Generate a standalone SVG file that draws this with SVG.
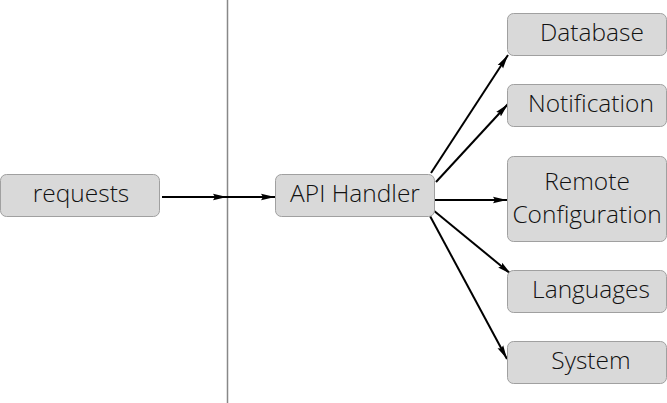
<svg xmlns="http://www.w3.org/2000/svg" width="667" height="403" viewBox="0 0 667 403">
<style>
.box{fill:#d9d9d9;stroke:#a0a0a0;stroke-width:1}
.lbl{font-family:"Open Sans","Noto Sans",sans-serif;font-size:24.5px;font-weight:300;fill:#111;text-anchor:middle}
.edge{stroke:#000;stroke-width:2;fill:none;marker-end:url(#arr)}
</style>
<defs>
<marker id="arr" viewBox="0 0 14 8" refX="14" refY="4" markerWidth="14" markerHeight="8" markerUnits="userSpaceOnUse" orient="auto">
<path d="M0,0.8 L14,4 L0,7.2 L2,4 Z" fill="#000"/>
</marker>
</defs>
<rect width="667" height="403" fill="#fff"/>
<line x1="227.5" y1="0" x2="227.5" y2="403" stroke="#888" stroke-width="1.5"/>
<g id="connectors">
<line class="edge" x1="162" y1="197" x2="227" y2="197"/>
<line class="edge" x1="227" y1="197" x2="275" y2="197"/>
<line class="edge" x1="431" y1="173" x2="508" y2="55"/>
<line class="edge" x1="436" y1="182" x2="508" y2="104"/>
<line class="edge" x1="434" y1="200" x2="507" y2="200"/>
<line class="edge" x1="433" y1="210" x2="511" y2="274"/>
<line class="edge" x1="430" y1="216" x2="507" y2="359"/>
</g>
<g id="requests">
<rect class="box" x="0.5" y="174.5" width="159" height="42" rx="6"/>
<text class="lbl" x="81" y="201.5">requests</text>
</g>
<g id="api-handler">
<rect class="box" x="275.5" y="174.5" width="159" height="42" rx="6"/>
<text class="lbl" x="355" y="201.5">API Handler</text>
</g>
<g id="database">
<rect class="box" x="507.5" y="13.5" width="159" height="42" rx="6"/>
<text class="lbl" x="592" y="41">Database</text>
</g>
<g id="notification">
<rect class="box" x="507.5" y="84.5" width="159" height="42" rx="6"/>
<text class="lbl" x="591" y="111.5">Notification</text>
</g>
<g id="remote-configuration">
<rect class="box" x="507.5" y="156.5" width="159" height="85" rx="6"/>
<text class="lbl" x="587" y="189.5">Remote</text>
<text class="lbl" x="587" y="222.5">Configuration</text>
</g>
<g id="languages">
<rect class="box" x="507.5" y="270.5" width="159" height="42" rx="6"/>
<text class="lbl" x="591" y="297.5">Languages</text>
</g>
<g id="system">
<rect class="box" x="507.5" y="341.5" width="159" height="42" rx="6"/>
<text class="lbl" x="591" y="368.5">System</text>
</g>
</svg>
